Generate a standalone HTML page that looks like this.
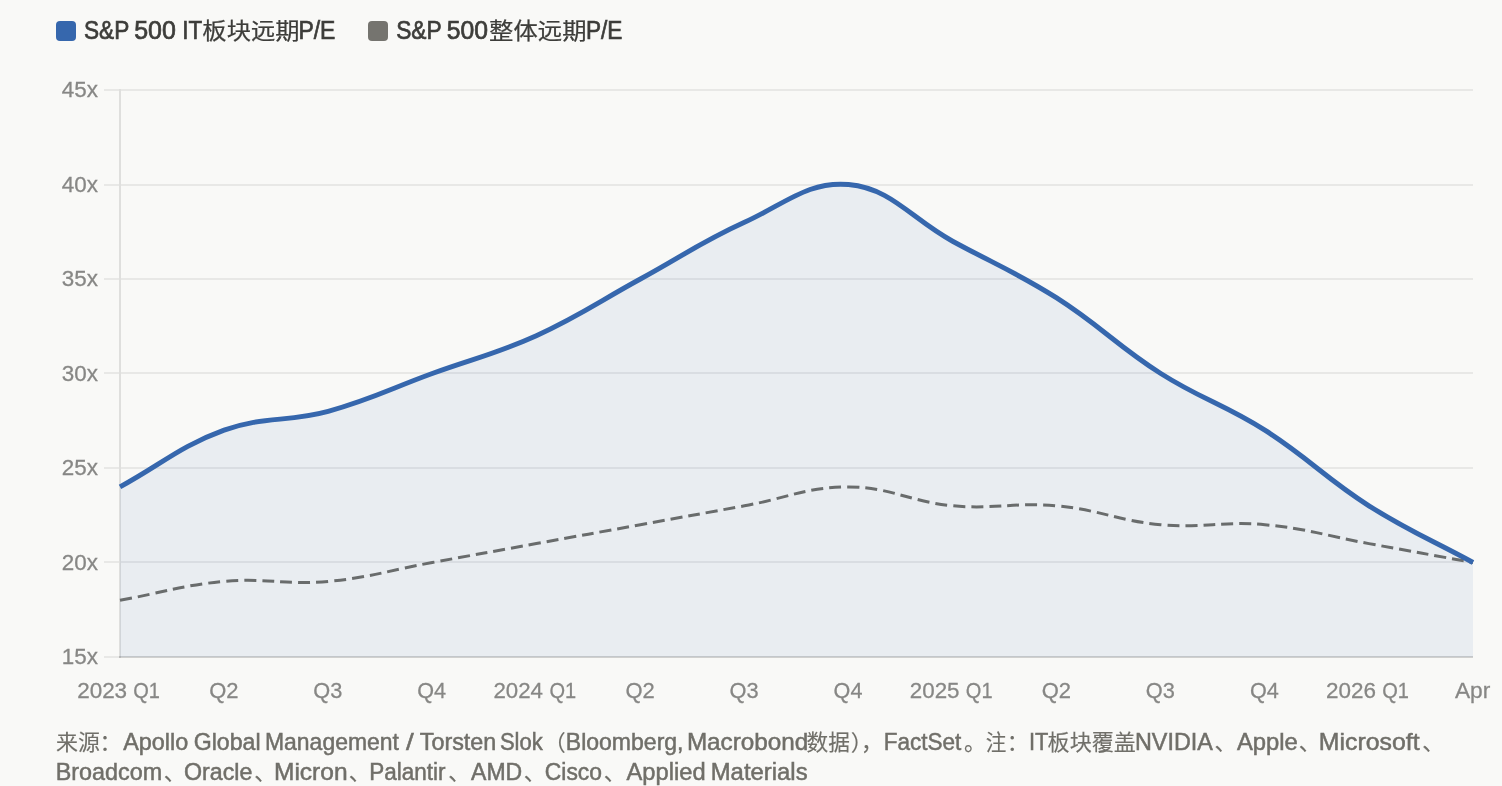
<!DOCTYPE html>
<html lang="zh-CN"><head><meta charset="utf-8"><title>S&amp;P 500 P/E</title>
<style>
html,body{margin:0;padding:0;}
body{width:1502px;height:786px;overflow:hidden;background:#f9f9f7;position:relative;
 font-family:"Liberation Sans","Noto Sans CJK SC",sans-serif;}
.chart{position:absolute;left:0;top:0;display:block;}
text{white-space:pre;}
</style></head><body>
<svg class="chart" width="1502" height="786" viewBox="0 0 1502 786" font-family='"Liberation Sans","Noto Sans CJK SC",sans-serif'>
<g id="grid">
<rect x="104" y="89" width="15" height="2" fill="rgba(0,0,0,0.065)"/>
<rect x="121" y="89" width="1352" height="2" fill="rgba(0,0,0,0.065)"/>
<rect x="104" y="184" width="15" height="2" fill="rgba(0,0,0,0.065)"/>
<rect x="121" y="184" width="1352" height="2" fill="rgba(0,0,0,0.065)"/>
<rect x="104" y="278" width="15" height="2" fill="rgba(0,0,0,0.065)"/>
<rect x="121" y="278" width="1352" height="2" fill="rgba(0,0,0,0.065)"/>
<rect x="104" y="372" width="15" height="2" fill="rgba(0,0,0,0.065)"/>
<rect x="121" y="372" width="1352" height="2" fill="rgba(0,0,0,0.065)"/>
<rect x="104" y="467" width="15" height="2" fill="rgba(0,0,0,0.065)"/>
<rect x="121" y="467" width="1352" height="2" fill="rgba(0,0,0,0.065)"/>
<rect x="104" y="561" width="15" height="2" fill="rgba(0,0,0,0.065)"/>
<rect x="121" y="561" width="1352" height="2" fill="rgba(0,0,0,0.065)"/>
<rect x="104" y="656" width="1369" height="2" fill="rgba(0,0,0,0.065)"/>
<rect x="119" y="89" width="2" height="569" fill="rgba(0,0,0,0.10)"/>
<rect x="119" y="656" width="1354" height="2" fill="rgba(0,0,0,0.10)"/>
</g>
<path d="M120.00,600.30 C161.63,592.74 182.11,585.21 224.08,581.40 C265.37,577.65 286.86,585.15 328.15,581.40 C370.12,577.59 390.60,570.06 432.23,562.50 C473.86,554.94 494.68,551.16 536.31,543.60 C577.94,536.04 598.75,532.26 640.38,524.70 C682.02,517.14 702.83,513.36 744.46,505.80 C786.09,498.24 806.91,486.90 848.54,486.90 C890.17,486.90 910.65,501.99 952.62,505.80 C993.91,509.55 1015.40,502.05 1056.69,505.80 C1098.66,509.61 1118.80,520.89 1160.77,524.70 C1202.06,528.45 1223.55,520.95 1264.85,524.70 C1306.82,528.51 1327.29,536.04 1368.92,543.60 C1410.55,551.16 1431.37,554.94 1473.00,562.50" fill="none" stroke="#6e6d67" stroke-width="3" stroke-dasharray="12 6"/>
<path d="M120.00,486.90 C161.63,464.22 180.08,446.18 224.08,430.20 C263.34,415.94 287.47,422.38 328.15,411.30 C370.74,399.70 390.60,388.62 432.23,373.50 C473.86,358.38 496.09,353.96 536.31,335.70 C579.35,316.16 598.75,301.68 640.38,279.00 C682.02,256.32 701.42,241.84 744.46,222.30 C784.68,204.04 808.32,180.85 848.54,184.50 C891.58,188.41 910.99,218.52 952.62,241.20 C994.25,263.88 1016.77,272.52 1056.69,297.90 C1100.03,325.44 1117.44,345.96 1160.77,373.50 C1200.70,398.88 1224.92,404.82 1264.85,430.20 C1308.18,457.74 1325.59,478.26 1368.92,505.80 C1408.85,531.18 1431.37,539.82 1473.00,562.50 L1473.00,657 L120.0,657 Z" fill="rgba(54,103,173,0.08)"/>
<path d="M120.00,486.90 C161.63,464.22 180.08,446.18 224.08,430.20 C263.34,415.94 287.47,422.38 328.15,411.30 C370.74,399.70 390.60,388.62 432.23,373.50 C473.86,358.38 496.09,353.96 536.31,335.70 C579.35,316.16 598.75,301.68 640.38,279.00 C682.02,256.32 701.42,241.84 744.46,222.30 C784.68,204.04 808.32,180.85 848.54,184.50 C891.58,188.41 910.99,218.52 952.62,241.20 C994.25,263.88 1016.77,272.52 1056.69,297.90 C1100.03,325.44 1117.44,345.96 1160.77,373.50 C1200.70,398.88 1224.92,404.82 1264.85,430.20 C1308.18,457.74 1325.59,478.26 1368.92,505.80 C1408.85,531.18 1431.37,539.82 1473.00,562.50" fill="none" stroke="#3667ad" stroke-width="5" stroke-linejoin="round"/>
<rect x="56" y="21" width="20" height="20" rx="4" fill="#3667ad"/>
<rect x="368" y="21" width="20" height="20" rx="4" fill="#75746f"/>
<g id="legend" fill="#3d3d3a" stroke="#3d3d3a"><text transform="translate(84.02 38.80) scale(0.9053 1) rotate(0.02)" font-size="25" stroke-width="0.7">S&amp;P</text>
<text transform="translate(134.15 38.80) scale(0.9987 1) rotate(0.02)" font-size="25" stroke-width="0.7">500</text>
<text transform="translate(182.33 38.80) scale(0.8974 1) rotate(0.02)" font-size="25" stroke-width="0.7">IT</text>
<text transform="translate(202.37 39.30) scale(1.0123 0.95) rotate(0.02)" font-size="24" stroke-width="0.25">板块远期</text>
<text transform="translate(298.41 38.80) scale(0.9181 1) rotate(0.02)" font-size="25" stroke-width="0.7">P/E</text>
<text transform="translate(396.21 38.80) scale(0.9095 1) rotate(0.02)" font-size="25" stroke-width="0.7">S&amp;P</text>
<text transform="translate(446.76 38.80) scale(0.9887 1) rotate(0.02)" font-size="25" stroke-width="0.7">500</text>
<text transform="translate(489.11 39.30) scale(1.0150 0.95) rotate(0.02)" font-size="24" stroke-width="0.25">整体远期</text>
<text transform="translate(585.94 38.80) scale(0.9047 1) rotate(0.02)" font-size="25" stroke-width="0.7">P/E</text></g>
<g id="axis" fill="#878785" stroke="#878785"><text transform="translate(61.84 97.20) scale(1.0062 1) rotate(0.02)" font-size="22.3" stroke-width="0.28">45x</text>
<text transform="translate(61.84 191.70) scale(1.0062 1) rotate(0.02)" font-size="22.3" stroke-width="0.28">40x</text>
<text transform="translate(61.84 286.20) scale(1.0062 1) rotate(0.02)" font-size="22.3" stroke-width="0.28">35x</text>
<text transform="translate(61.84 380.70) scale(1.0062 1) rotate(0.02)" font-size="22.3" stroke-width="0.28">30x</text>
<text transform="translate(61.84 475.20) scale(1.0062 1) rotate(0.02)" font-size="22.3" stroke-width="0.28">25x</text>
<text transform="translate(61.84 569.70) scale(1.0062 1) rotate(0.02)" font-size="22.3" stroke-width="0.28">20x</text>
<text transform="translate(61.84 664.20) scale(1.0062 1) rotate(0.02)" font-size="22.3" stroke-width="0.28">15x</text>
<text transform="translate(77.13 698.45) scale(1.0088 1) rotate(0.02)" font-size="22.3" stroke-width="0.28">2023</text>
<text transform="translate(133.24 698.45) scale(0.8980 1) rotate(0.02)" font-size="22.3" stroke-width="0.28">Q1</text>
<text transform="translate(209.13 698.45) scale(0.9862 1) rotate(0.02)" font-size="22.3" stroke-width="0.28">Q2</text>
<text transform="translate(313.22 698.45) scale(0.9773 1) rotate(0.02)" font-size="22.3" stroke-width="0.28">Q3</text>
<text transform="translate(417.30 698.45) scale(0.9686 1) rotate(0.02)" font-size="22.3" stroke-width="0.28">Q4</text>
<text transform="translate(493.45 698.45) scale(0.9983 1) rotate(0.02)" font-size="22.3" stroke-width="0.28">2024</text>
<text transform="translate(549.55 698.45) scale(0.8980 1) rotate(0.02)" font-size="22.3" stroke-width="0.28">Q1</text>
<text transform="translate(625.44 698.45) scale(0.9862 1) rotate(0.02)" font-size="22.3" stroke-width="0.28">Q2</text>
<text transform="translate(729.52 698.45) scale(0.9773 1) rotate(0.02)" font-size="22.3" stroke-width="0.28">Q3</text>
<text transform="translate(833.61 698.45) scale(0.9686 1) rotate(0.02)" font-size="22.3" stroke-width="0.28">Q4</text>
<text transform="translate(909.75 698.45) scale(1.0036 1) rotate(0.02)" font-size="22.3" stroke-width="0.28">2025</text>
<text transform="translate(965.86 698.45) scale(0.8980 1) rotate(0.02)" font-size="22.3" stroke-width="0.28">Q1</text>
<text transform="translate(1041.75 698.45) scale(0.9862 1) rotate(0.02)" font-size="22.3" stroke-width="0.28">Q2</text>
<text transform="translate(1145.83 698.45) scale(0.9773 1) rotate(0.02)" font-size="22.3" stroke-width="0.28">Q3</text>
<text transform="translate(1249.92 698.45) scale(0.9686 1) rotate(0.02)" font-size="22.3" stroke-width="0.28">Q4</text>
<text transform="translate(1326.06 698.45) scale(1.0088 1) rotate(0.02)" font-size="22.3" stroke-width="0.28">2026</text>
<text transform="translate(1382.17 698.45) scale(0.8980 1) rotate(0.02)" font-size="22.3" stroke-width="0.28">Q1</text>
<text transform="translate(1454.94 698.45) scale(1.0196 1) rotate(0.02)" font-size="22.3" stroke-width="0.28">Apr</text></g>
<g id="source" fill="#706f69" stroke="#706f69"><text transform="translate(56.03 750.10) scale(0.9965 1) rotate(0.02)" font-size="22" stroke-width="0.15">来源</text>
<text transform="translate(99.62 750.10) rotate(0.02)" font-size="22" stroke-width="0.15">：</text>
<text transform="translate(123.25 749.70) scale(0.9961 1) rotate(0.02)" font-size="23.5" stroke-width="0.5">Apollo</text>
<text transform="translate(193.72 749.70) scale(0.9846 1) rotate(0.02)" font-size="23.5" stroke-width="0.5">Global</text>
<text transform="translate(265.00 749.70) scale(0.9763 1) rotate(0.02)" font-size="23.5" stroke-width="0.5">Management</text>
<text transform="translate(406.05 749.70) scale(1.1846 1) rotate(0.02)" font-size="23.5" stroke-width="0.5">/</text>
<text transform="translate(419.75 749.70) scale(0.9933 1) rotate(0.02)" font-size="23.5" stroke-width="0.5">Torsten</text>
<text transform="translate(499.88 749.70) scale(0.9371 1) rotate(0.02)" font-size="23.5" stroke-width="0.5">Slok</text>
<text transform="translate(543.83 750.10) rotate(0.02)" font-size="22" stroke-width="0.15">（</text>
<text transform="translate(565.79 749.70) scale(0.9802 1) rotate(0.02)" font-size="23.5" stroke-width="0.5">Bloomberg,</text>
<text transform="translate(686.88 749.70) scale(1.0333 1) rotate(0.02)" font-size="23.5" stroke-width="0.5">Macrobond</text>
<text transform="translate(806.59 750.10) scale(0.9845 1) rotate(0.02)" font-size="22" stroke-width="0.15">数据</text>
<text transform="translate(850.78 750.10) rotate(0.02)" font-size="22" stroke-width="0.15">）</text>
<text transform="translate(861.08 750.10) rotate(0.02)" font-size="22" stroke-width="0.15">，</text>
<text transform="translate(883.63 749.70) scale(0.9587 1) rotate(0.02)" font-size="23.5" stroke-width="0.5">FactSet</text>
<text transform="translate(964.08 750.10) rotate(0.02)" font-size="22" stroke-width="0.15">。</text>
<text transform="translate(985.84 750.10) scale(0.9358 1) rotate(0.02)" font-size="22" stroke-width="0.15">注</text>
<text transform="translate(1006.83 750.10) rotate(0.02)" font-size="22" stroke-width="0.15">：</text>
<text transform="translate(1028.96 749.70) scale(0.9278 1) rotate(0.02)" font-size="23.5" stroke-width="0.5">IT</text>
<text transform="translate(1047.62 750.10) scale(1.0035 1) rotate(0.02)" font-size="22" stroke-width="0.15">板块覆盖</text>
<text transform="translate(1134.96 749.70) scale(0.9941 1) rotate(0.02)" font-size="23.5" stroke-width="0.5">NVIDIA</text>
<text transform="translate(1214.62 750.10) rotate(0.02)" font-size="22" stroke-width="0.15">、</text>
<text transform="translate(1236.95 749.70) scale(1.0136 1) rotate(0.02)" font-size="23.5" stroke-width="0.5">Apple</text>
<text transform="translate(1298.83 750.10) rotate(0.02)" font-size="22" stroke-width="0.15">、</text>
<text transform="translate(1318.84 749.70) scale(1.0574 1) rotate(0.02)" font-size="23.5" stroke-width="0.5">Microsoft</text>
<text transform="translate(1422.33 750.10) rotate(0.02)" font-size="22" stroke-width="0.15">、</text>
<text transform="translate(55.76 779.70) scale(0.9932 1) rotate(0.02)" font-size="23.5" stroke-width="0.5">Broadcom</text>
<text transform="translate(163.82 780.10) rotate(0.02)" font-size="22" stroke-width="0.15">、</text>
<text transform="translate(183.96 779.70) scale(0.9888 1) rotate(0.02)" font-size="23.5" stroke-width="0.5">Oracle</text>
<text transform="translate(254.32 780.10) rotate(0.02)" font-size="22" stroke-width="0.15">、</text>
<text transform="translate(273.96 779.70) scale(1.0448 1) rotate(0.02)" font-size="23.5" stroke-width="0.5">Micron</text>
<text transform="translate(348.82 780.10) rotate(0.02)" font-size="22" stroke-width="0.15">、</text>
<text transform="translate(369.13 779.70) scale(0.9579 1) rotate(0.02)" font-size="23.5" stroke-width="0.5">Palantir</text>
<text transform="translate(448.32 780.10) rotate(0.02)" font-size="22" stroke-width="0.15">、</text>
<text transform="translate(471.05 779.70) scale(0.9804 1) rotate(0.02)" font-size="23.5" stroke-width="0.5">AMD</text>
<text transform="translate(523.83 780.10) rotate(0.02)" font-size="22" stroke-width="0.15">、</text>
<text transform="translate(544.83 779.70) scale(0.9735 1) rotate(0.02)" font-size="23.5" stroke-width="0.5">Cisco</text>
<text transform="translate(603.83 780.10) rotate(0.02)" font-size="22" stroke-width="0.15">、</text>
<text transform="translate(626.55 779.70) scale(1.0085 1) rotate(0.02)" font-size="23.5" stroke-width="0.5">Applied</text>
<text transform="translate(710.72 779.70) scale(1.0162 1) rotate(0.02)" font-size="23.5" stroke-width="0.5">Materials</text></g>
</svg>
</body></html>
